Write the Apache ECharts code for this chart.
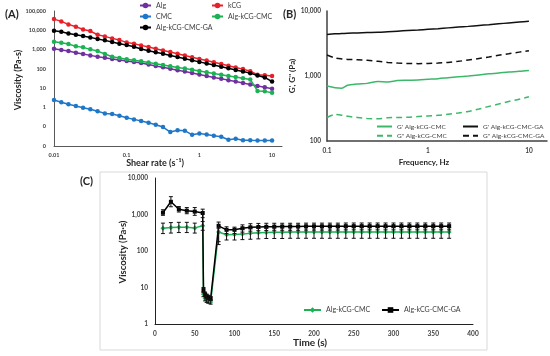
<!DOCTYPE html>
<html><head><meta charset="utf-8">
<script src="https://cdn.jsdelivr.net/npm/echarts@6/dist/echarts.min.js"></script>
<style>html,body{margin:0;padding:0;background:#fff}#c{width:550px;height:356px}</style>
</head><body><div id="c"></div>
<script>
// ---------- Panel A: steady shear viscosity ----------
const shearRate = [0.01,0.0126,0.0158,0.02,0.0251,0.0316,0.0398,0.0501,0.0631,0.0794,0.1,0.126,0.158,0.2,0.251,0.316,0.398,0.501,0.631,0.794,1,1.26,1.58,2,2.51,3.16,3.98,5.01,6.31,7.94,10];
const viscAlg = [1100,940,836,682,585,500,424,376,322,286,254,225,200,169,142,120,101,85,72,61,51,43,36,31,26,22,18.4,15.5,13,11,9.3];
const viscKCG = [38000,28900,20200,15200,11100,9100,5850,4830,3800,3100,2360,2000,1650,1350,1100,900,740,600,490,400,325,270,220,178,145,118,97,75,50,47,43];
const viscCMC = [2.41,1.84,1.45,1.18,0.96,0.80,0.63,0.49,0.455,0.37,0.29,0.24,0.197,0.161,0.127,0.096,0.053,0.065,0.062,0.038,0.045,0.040,0.034,0.030,0.021,0.024,0.020,0.020,0.019,0.019,0.019];
const viscAlgKcgCmc = [2540,2250,1930,1470,1300,1025,836,585,424,363,311,276,245,212,184,159,137,119,103,89,77,67,58,50,43,38,33,28,7.2,6.8,5.8];
const viscAlgKcgCmcGa = [9400,8360,6900,5850,5000,4280,3500,3000,2450,2000,1710,1400,1060,877,725,600,494,408,337,279,230,190,157,130,107,88,73,60,45,36,22];
const namesA = ['Alg','kCG','CMC','Alg-kCG-CMC','Alg-kCG-CMC-GA'];
const colorsA = ['#7030A0','#E8202A','#1F77C8','#1DB154','#000000'];

// ---------- Panel B: frequency sweep ----------
const freq = [0.1,0.12,0.14,0.16,0.2,0.25,0.32,0.4,0.5,0.63,0.8,1,1.26,1.58,2,2.5,3.2,4,5,6.3,8,10];
const gpCMC  = [700,660,650,720,750,770,820,810,850,860,870,890,910,940,970,1000,1040,1080,1110,1150,1180,1220];
const gppCMC = [230,255,250,240,230,222,220,228,230,232,238,243,248,258,270,285,310,340,370,405,440,480];
const gpGA   = [4350,4450,4500,4550,4600,4650,4700,4800,4900,5000,5100,5230,5350,5500,5650,5800,6000,6150,6350,6550,6750,6950];
const gppGA  = [2100,1900,1830,1800,1780,1740,1680,1620,1580,1560,1550,1560,1580,1620,1680,1760,1860,1960,2080,2200,2330,2450];
const namesB = ["G' Alg-kCG-CMC", "G' Alg-kCG-CMC-GA", 'G" Alg-kCG-CMC', 'G" Alg-kCG-CMC-GA'];

// ---------- Panel C: thixotropy (time) ----------
const timeS = [10,20,30,40,50,60,61,63,65,67,70,80,90,100,110,120,130,140,150,160,170,180,190,200,210,220,230,240,250,260,270,280,290,300,310,320,330,340,350,360,370];
const tCMC = [420,440,450,450,430,490,6.5,5.0,4.5,4.2,4.0,330,280,285,290,305,315,320,325,325,330,330,330,330,330,330,330,330,330,330,330,330,330,330,330,330,330,330,330,330,330];
const tCMCHigh = [580,600,610,610,580,640,7.5,5.8,5.2,4.8,4.6,420,380,385,390,410,420,425,430,430,435,435,435,435,435,435,435,435,435,435,435,435,435,435,435,435,435,435,435,435,435];
const tCMCLow = [300,310,320,320,310,370,5.6,4.3,3.9,3.7,3.5,180,200,200,205,210,215,220,220,220,223,223,223,223,223,223,223,223,223,223,223,223,223,223,223,223,223,223,223,223,223];
const tGA = [1120,2230,1390,1270,1200,1100,8.5,6.5,5.8,5.4,5.0,490,380,380,420,445,455,460,465,470,470,470,475,475,475,475,475,480,480,480,480,480,480,480,480,480,480,480,480,480,480];
const tGAHigh = [1350,3080,1650,1550,1550,1400,10,7.5,6.6,6.1,5.6,620,460,450,520,560,570,575,575,575,575,575,580,580,580,580,580,585,585,585,585,585,585,585,585,585,585,585,585,585,585];
const tGALow = [950,1630,1170,1050,950,820,7.2,5.6,5.1,4.8,4.4,150,300,300,330,350,360,365,370,370,370,370,375,375,375,375,375,380,380,380,380,380,380,380,380,380,380,380,380,380,380];
const namesC = ['Alg-kCG-CMC','Alg-kCG-CMC-GA'];

// ---------- helpers ----------
const FONT = 'Lato, "Open Sans", "Liberation Sans", sans-serif';
const fmtComma = v => String(Math.round(v)).replace(/\B(?=(\d{3})+(?!\d))/g, ',');
const fmtSmall = v => v >= 1 ? String(Math.round(v)) : String(+Number(v).toPrecision(1));
const pairs = (xs, ys) => xs.map((x, i) => [x, ys[i]]);

function axisBase(color, w, extra) {
  return Object.assign({
    axisLine: {show: true, lineStyle: {color: color, width: w}},
    axisTick: {show: false},
    splitLine: {show: false}
  }, extra);
}
function lbl(fs, margin, fmt, hideMax) {
  const o = {fontSize: fs, fontWeight: 'bold', color: '#404040', fontFamily: FONT, margin: margin};
  if (fmt) o.formatter = fmt;
  if (hideMax) o.showMaxLabel = false;
  return o;
}

const seriesA = [viscAlg, viscKCG, viscCMC, viscAlgKcgCmc, viscAlgKcgCmcGa].map((arr, i) => ({
  type: 'line', name: namesA[i], xAxisIndex: 0, yAxisIndex: 0,
  data: pairs(shearRate, arr), symbol: 'circle', symbolSize: 4.5,
  itemStyle: {color: colorsA[i]}, lineStyle: {color: colorsA[i], width: 1.5}, z: 3 + i
}));

const bDefs = [
  [gpCMC, '#3CB86A', 'solid'], [gpGA, '#111111', 'solid'],
  [gppCMC, '#3CB86A', [6, 4]], [gppGA, '#111111', [6, 4]]
];
const seriesB = bDefs.map((d, i) => ({
  type: 'line', name: namesB[i], xAxisIndex: 1, yAxisIndex: 1,
  data: pairs(freq, d[0]), symbol: 'none', smooth: 0.3,
  itemStyle: {color: d[1]}, lineStyle: {color: d[1], width: 1.5, type: d[2]}
}));

function errBar(name, lows, highs) {
  return {
    type: 'custom', name: name, xAxisIndex: 2, yAxisIndex: 2, z: 6,
    data: timeS.map((t, i) => [t, lows[i], highs[i]]),
    encode: {x: 0, y: [1, 2]},
    renderItem: function (params, api) {
      const x = api.value(0);
      const pH = api.coord([x, api.value(2)]);
      const pL = api.coord([x, api.value(1)]);
      const st = {stroke: '#111', lineWidth: 1};
      const cw = 2;
      return {type: 'group', children: [
        {type: 'line', shape: {x1: pH[0], y1: pH[1], x2: pL[0], y2: pL[1]}, style: st},
        {type: 'line', shape: {x1: pH[0]-cw, y1: pH[1], x2: pH[0]+cw, y2: pH[1]}, style: st},
        {type: 'line', shape: {x1: pL[0]-cw, y1: pL[1], x2: pL[0]+cw, y2: pL[1]}, style: st}
      ]};
    }
  };
}

const seriesC = [
  {type: 'line', name: 'C:' + namesC[0], xAxisIndex: 2, yAxisIndex: 2, data: pairs(timeS, tCMC),
   symbol: 'diamond', symbolSize: 5, itemStyle: {color: '#1DB154'}, lineStyle: {color: '#1DB154', width: 1.5}, z: 4},
  {type: 'line', name: 'C:' + namesC[1], xAxisIndex: 2, yAxisIndex: 2, data: pairs(timeS, tGA),
   symbol: 'rect', symbolSize: 4, itemStyle: {color: '#000'}, lineStyle: {color: '#000', width: 1.5}, z: 5},
  errBar('errCMC', tCMCLow, tCMCHigh),
  errBar('errGA', tGALow, tGAHigh)
];

function legend(data, left, top, iw, ih, gap, fs, orient, fmt, hideSymbol) {
  const l = {data: data, left: left, top: top, orient: orient || 'vertical', itemWidth: iw, itemHeight: ih,
    itemGap: gap, padding: 0, selectedMode: false,
    textStyle: {fontSize: fs, color: '#404040', fontFamily: FONT}};
  if (fmt) l.formatter = fmt;
  if (hideSymbol) l.itemStyle = {opacity: 0};
  return l;
}
const stripC = n => n.replace('C:', '');

function txt(t, x, y, fs, rot, align) {
  return {type: 'text', x: x, y: y, rotation: rot || 0, z: 10,
    style: {text: t, fontSize: fs, fontWeight: 'bold', fill: '#262626', fontFamily: FONT,
      textAlign: align || 'center', textVerticalAlign: 'middle'}};
}

const option = {
  backgroundColor: '#fff',
  animation: false,
  textStyle: {fontFamily: FONT},
  grid: [
    {left: 54, top: 11, width: 228, height: 135},
    {left: 327, top: 11, width: 220, height: 130},
    {left: 155, top: 178, width: 318, height: 146}
  ],
  xAxis: [
    axisBase('#595959', 1, {type: 'log', logBase: 10, gridIndex: 0, min: 0.01, max: 13.7, axisLabel: lbl(5.5, 6, fmtSmall, true)}),
    axisBase('#404040', 1.5, {type: 'log', logBase: 10, gridIndex: 1, min: 0.1, max: 15.1, axisLabel: lbl(6.5, 6, fmtSmall, true)}),
    axisBase('#222', 1, {type: 'value', gridIndex: 2, min: 0, max: 400, interval: 50, axisLabel: lbl(6.5, 6)})
  ],
  yAxis: [
    axisBase('#595959', 1, {type: 'log', logBase: 10, gridIndex: 0, min: 0.01, max: 100000, axisLabel: lbl(5.5, 8, fmtComma)}),
    axisBase('#404040', 1.5, {type: 'log', logBase: 10, gridIndex: 1, min: 100, max: 10000, axisLabel: lbl(6.5, 6, fmtComma)}),
    axisBase('#222', 1, {type: 'log', logBase: 10, gridIndex: 2, min: 1, max: 10000, axisLabel: lbl(6.5, 7, fmtComma)})
  ],
  legend: [
    legend([namesA[0], namesA[2], namesA[4]], 139, 2, 11, 7, 4, 7),
    legend([namesA[1], namesA[3]], 211, 2, 11, 7, 4, 7),
    legend([namesB[0], namesB[2]], 376, 123, 15, 7, 2.3, 6.5, 'vertical', null, true),
    legend([namesB[1], namesB[3]], 462, 123, 15, 7, 2.3, 6.5, 'vertical', null, true),
    legend(['C:' + namesC[0]], 303, 306.5, 17, 7, 4, 7, 'horizontal', stripC),
    legend(['C:' + namesC[1]], 381, 306.5, 17, 7, 4, 7, 'horizontal', stripC)
  ],
  graphic: [
    {type: 'rect', z: -10, shape: {x: 100, y: 172, width: 387, height: 178}, style: {fill: '#fff', stroke: '#d9d9d9', lineWidth: 1}},
    txt('(A)', 5, 14, 11, 0, 'left'),
    txt('(B)', 283, 14, 11, 0, 'left'),
    txt('(C)', 80, 181, 11, 0, 'left'),
    txt('Shear rate (s\u207B\u00B9)', 155, 163, 9),
    txt('Viscosity (Pa-s)', 18, 80, 9, Math.PI / 2),
    txt('Frequency, Hz', 424, 162, 8),
    txt('G\', G" (Pa)', 292, 76, 8, Math.PI / 2),
    txt('Time (s)', 310, 343, 10),
    txt('Viscosity (Pa\u00B7s)', 123, 252, 9.5, Math.PI / 2)
  ],
  series: seriesA.concat(seriesB, seriesC)
};

const chart = echarts.init(document.getElementById('c'), null, {renderer: 'canvas'});
chart.setOption(option);
</script>
</body></html>
